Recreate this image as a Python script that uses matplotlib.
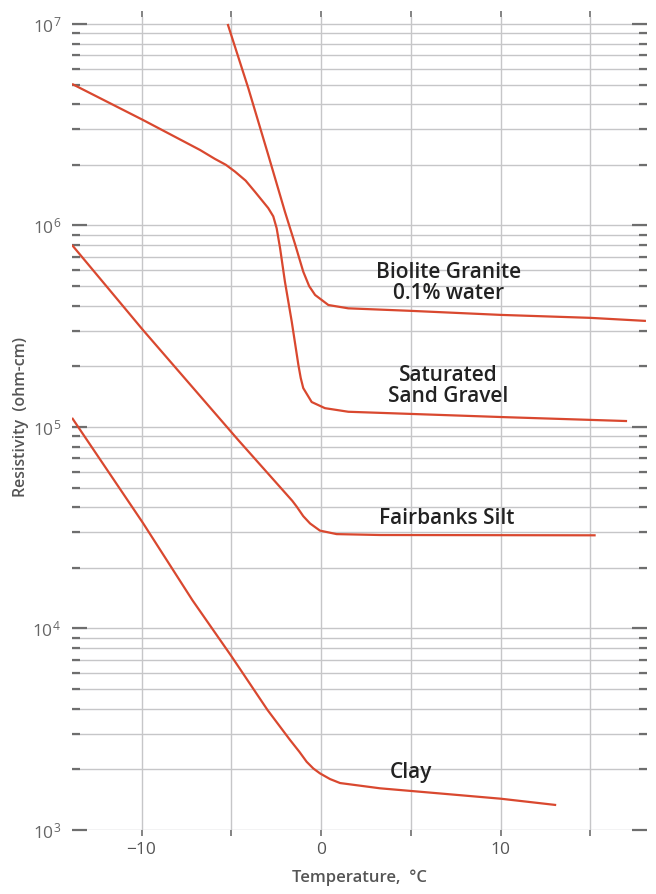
import matplotlib
matplotlib.use("Agg")
import matplotlib.pyplot as plt
from matplotlib.ticker import LogLocator, FixedLocator, NullFormatter

plt.rcParams['font.family'] = ['Open Sans', 'DejaVu Sans']
plt.rcParams['mathtext.fontset'] = 'custom'
plt.rcParams['mathtext.rm'] = 'Open Sans'

# temperature (deg C) and resistivity (ohm-cm)
granite_t = [-5.20, -4.05, -2.94, -2.01, -1.45, -0.99, -0.66, -0.33, 0.41, 1.52, 5.0, 10.0, 15.0, 18.1]
granite_r = [1.0e7, 4.80e6, 2.24e6, 1.17e6, 8.1e5, 5.90e5, 5.0e5, 4.52e5, 4.03e5, 3.88e5,
             3.77e5, 3.60e5, 3.48e5, 3.36e5]

sand_t = [-13.87, -9.92, -6.74, -5.91, -5.3, -4.79, -4.2, -3.68, -2.94, -2.66, -2.47, -2.28,
          -2.01, -1.63, -1.26, -1.13, -0.99, -0.52, 0.22, 1.52, 10.08, 17.05]
sand_r = [5.04e6, 3.34e6, 2.37e6, 2.14e6, 2.0e6, 1.85e6, 1.67e6, 1.47e6, 1.22e6, 1.11e6,
          9.68e5, 7.71e5, 5.26e5, 3.33e5, 2.03e5, 1.75e5, 1.56e5, 1.33e5, 1.24e5, 1.19e5,
          1.12e5, 1.07e5]

silt_t = [-13.87, -9.92, -4.61, -1.6, -1.35, -0.99, -0.61, -0.06, 0.87, 3.29, 15.3]
silt_r = [8.0e5, 3.03e5, 8.61e4, 4.3e4, 4.02e4, 3.61e4, 3.32e4, 3.06e4, 2.94e4, 2.91e4, 2.90e4]

clay_t = [-13.87, -9.92, -7.16, -4.97, -2.98, -1.73, -1.2, -0.80, -0.43, -0.06, 0.5, 1.06, 3.29,
          6.56, 10.0, 13.1]
clay_r = [1.11e5, 3.34e4, 1.38e4, 7.24e3, 3.94e3, 2.80e3, 2.44e3, 2.18e3, 2.02e3, 1.91e3,
          1.79e3, 1.71e3, 1.61e3, 1.52e3, 1.43e3, 1.33e3]

labels = ["Biolite Granite\n0.1% water", "Saturated\nSand Gravel", "Fairbanks Silt", "Clay"]
label_pos = [(7.13, 10**5.715), (7.08, 10**5.203), (7.02, 10**4.548), (5.01, 10**3.283)]

red = '#d9482f'
grid_c = '#c6c6c8'
tick_c = '#6e6e6e'

fig = plt.figure(figsize=(6.56, 8.94), dpi=100)
ax = fig.add_axes([0.1098, 0.0716, 0.8765, 0.9094])

for t, r in [(granite_t, granite_r), (sand_t, sand_r), (silt_t, silt_r), (clay_t, clay_r)]:
    ax.plot(t, r, color=red, lw=1.6, solid_capstyle='butt')

for txt, (x, y) in zip(labels, label_pos):
    ax.text(x, y, txt, ha='center', va='center', fontsize=15, fontweight='semibold',
            color='#222222', linespacing=1.05)

ax.set_yscale('log')
ax.set_xlim(-13.87, 18.16)
ax.set_ylim(1e3, 10**7.0347)

ax.set_xticks([-10, 0, 10])
ax.set_xticklabels(['\u221210', '0', '10'])
ax.xaxis.set_minor_locator(FixedLocator([-5, 5, 15]))
ax.yaxis.set_major_locator(LogLocator(base=10, numticks=10))
ax.yaxis.set_minor_locator(LogLocator(base=10, subs=range(2, 10), numticks=20))
ax.yaxis.set_minor_formatter(NullFormatter())

for s in ax.spines.values():
    s.set_visible(False)

ax.grid(True, which='both', color=grid_c, lw=1.0)
ax.set_axisbelow(True)

ax.tick_params(axis='y', which='major', direction='in', left=True, right=True,
               length=11, width=1.6, color=tick_c, labelsize=12.5, labelcolor='#666666', pad=8)
ax.tick_params(axis='y', which='minor', direction='in', left=True, right=True,
               length=6, width=1.6, color=tick_c)
ax.tick_params(axis='x', which='both', direction='out', top=True, bottom=True,
               length=4.5, width=1.2, color=tick_c, labelsize=12.5, labelcolor='#555555', pad=4)

ax.set_xlabel("Temperature,  \u00b0C", fontsize=12, fontweight='semibold', color='#555555')
ax.xaxis.set_label_coords(0.499, -0.048)
ax.set_ylabel("Resistivity  (ohm-cm)", fontsize=11.5, fontweight='semibold', color='#555555')
ax.yaxis.set_label_coords(-0.075, 0.508)

fig.savefig("out.png", dpi=100)
